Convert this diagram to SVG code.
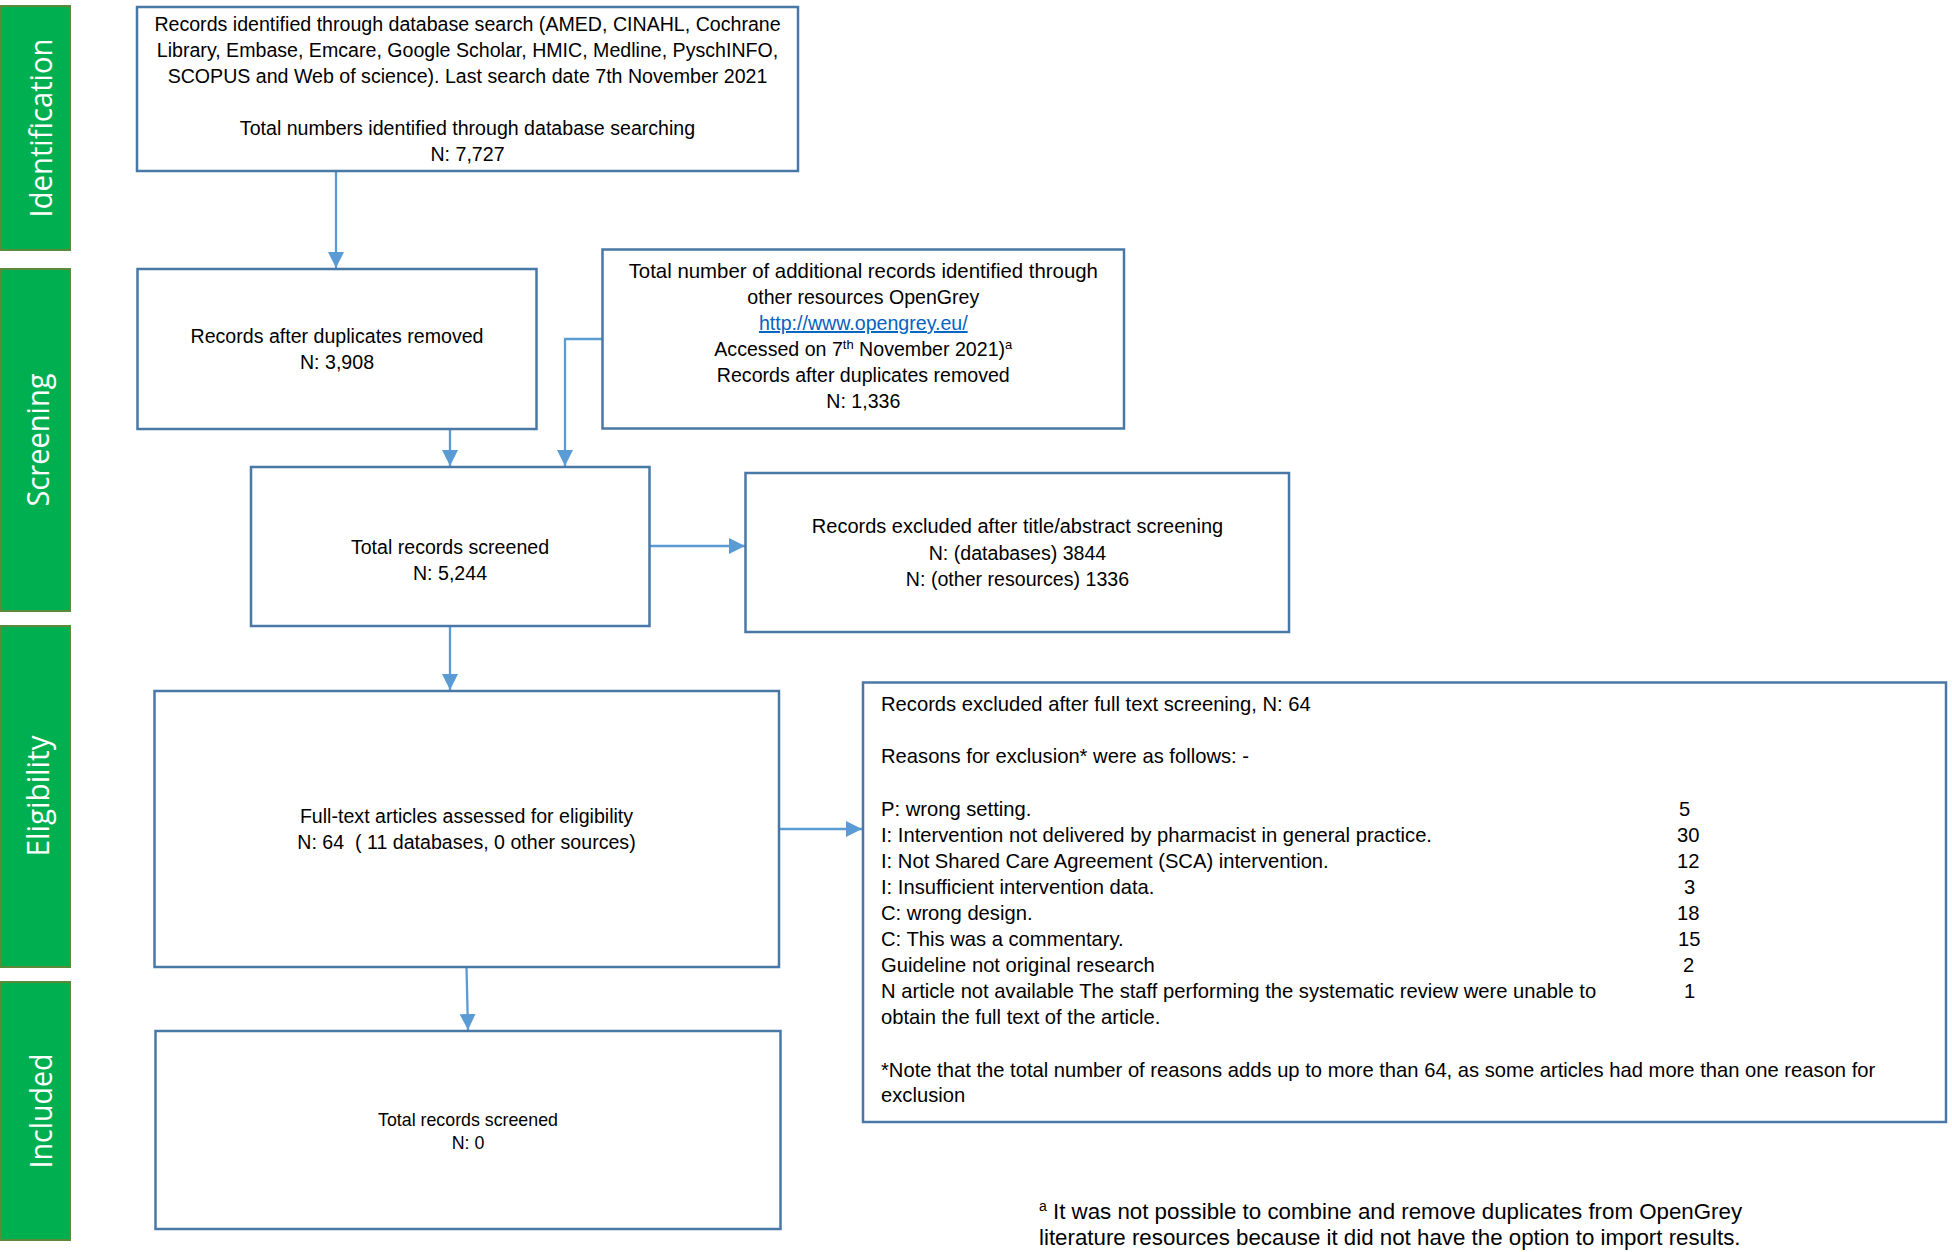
<svg xmlns="http://www.w3.org/2000/svg" width="1952" height="1252" viewBox="0 0 1952 1252">
<defs>
<style>
.bar{fill:#00B050;stroke:#5A8A3A;stroke-width:2}
.bl{fill:#fff;font-family:"Open Sans","DejaVu Sans",sans-serif;font-size:31px}
.box{fill:#fff;stroke:#4A78A6;stroke-width:2.5}
.t{font-family:"Liberation Sans",Arial,sans-serif;font-size:19.6px;fill:#000}
.w{font-size:20.2px}
.c{text-anchor:middle}
.con{fill:none;stroke:#5B9BD5;stroke-width:2.3}
.link{fill:#0563C1}
</style>
<marker id="ah" markerUnits="userSpaceOnUse" markerWidth="16" markerHeight="16" viewBox="0 0 14 14" refX="14" refY="7" orient="auto">
<path d="M0,0 L14,7 L0,14 Z" fill="#5B9BD5"/>
</marker>
</defs>
<rect width="1952" height="1252" fill="#fff"/>

<g id="stage-identification">
<rect class="bar" x="1" y="6" width="69" height="244"/>
<text class="bl" transform="translate(52,128) rotate(-90)" text-anchor="middle" textLength="179" lengthAdjust="spacingAndGlyphs">Identification</text>
</g>
<g id="stage-screening">
<rect class="bar" x="1" y="269" width="69" height="342"/>
<text class="bl" transform="translate(49,440) rotate(-90)" text-anchor="middle" textLength="133" lengthAdjust="spacingAndGlyphs">Screening</text>
</g>
<g id="stage-eligibility">
<rect class="bar" x="1" y="626" width="69" height="341"/>
<text class="bl" transform="translate(49,796) rotate(-90)" text-anchor="middle" textLength="121" lengthAdjust="spacingAndGlyphs">Eligibility</text>
</g>
<g id="stage-included">
<rect class="bar" x="1" y="982" width="69" height="258"/>
<text class="bl" transform="translate(52,1111) rotate(-90)" text-anchor="middle" textLength="115" lengthAdjust="spacingAndGlyphs">Included</text>
</g>

<g id="connectors">
<path class="con" d="M336,171 V268" marker-end="url(#ah)"/>
<path class="con" d="M450,429 V466" marker-end="url(#ah)"/>
<path class="con" d="M602.5,339 H565 V466" marker-end="url(#ah)"/>
<path class="con" d="M649.5,546 H745" marker-end="url(#ah)"/>
<path class="con" d="M450,626 V690" marker-end="url(#ah)"/>
<path class="con" d="M779,829 H862" marker-end="url(#ah)"/>
<path class="con" d="M466.5,967 L468,1030" marker-end="url(#ah)"/>
</g>

<g id="node-database-search">
<rect class="box" x="137" y="7" width="661" height="164"/>
<text class="t c" x="467.5" y="31">Records identified through database search (AMED, CINAHL, Cochrane</text>
<text class="t c" x="467.5" y="57">Library, Embase, Emcare, Google Scholar, HMIC, Medline, PyschINFO,</text>
<text class="t c" x="467.5" y="83">SCOPUS and Web of science). Last search date 7th November 2021</text>
<text class="t c" x="467.5" y="135">Total numbers identified through database searching</text>
<text class="t c" x="467.5" y="161">N: 7,727</text>
</g>

<g id="node-after-duplicates">
<rect class="box" x="137.5" y="269" width="399" height="160"/>
<text class="t c" x="337" y="343">Records after duplicates removed</text>
<text class="t c" x="337" y="369">N: 3,908</text>
</g>

<g id="node-other-resources">
<rect class="box" x="602.5" y="249.5" width="521.5" height="179"/>
<text class="t c" x="863.3" y="278" style="font-size:20.4px">Total number of additional records identified through</text>
<text class="t c" x="863.3" y="304">other resources OpenGrey</text>
<text class="t c link" x="863.3" y="330" text-decoration="underline">http://www.opengrey.eu/</text>
<text class="t c" x="863.3" y="356">Accessed on 7<tspan font-size="13" dy="-7">th</tspan><tspan dy="7"> November 2021)</tspan><tspan font-size="13" dy="-7">a</tspan></text>
<text class="t c" x="863.3" y="382">Records after duplicates removed</text>
<text class="t c" x="863.3" y="408">N: 1,336</text>
</g>

<g id="node-screened">
<rect class="box" x="251" y="467" width="398.5" height="159"/>
<text class="t c" x="450" y="554">Total records screened</text>
<text class="t c" x="450" y="580">N: 5,244</text>
</g>

<g id="node-excluded-title">
<rect class="box" x="745.5" y="473" width="543.5" height="159"/>
<text class="t c" x="1017.5" y="533" style="font-size:20px">Records excluded after title/abstract screening</text>
<text class="t c" x="1017.5" y="560">N: (databases) 3844</text>
<text class="t c" x="1017.5" y="586">N: (other resources) 1336</text>
</g>

<g id="node-fulltext">
<rect class="box" x="154.5" y="691" width="624.5" height="276"/>
<text class="t c" x="466.5" y="823">Full-text articles assessed for eligibility</text>
<text class="t c" x="466.5" y="849" xml:space="preserve" style="white-space:pre">N: 64  ( 11 databases, 0 other sources)</text>
</g>

<g id="node-included">
<rect class="box" x="155.5" y="1031" width="625" height="198"/>
<text class="t c" x="468" y="1126" style="font-size:17.8px">Total records screened</text>
<text class="t c" x="468" y="1149" style="font-size:17.8px">N: 0</text>
</g>

<g id="node-excluded-fulltext">
<rect class="box" x="863" y="682.5" width="1083" height="439.5"/>
<text class="t w" x="881" y="711">Records excluded after full text screening, N: 64</text>
<text class="t w" x="881" y="763">Reasons for exclusion* were as follows: -</text>
<text class="t w" x="881" y="815.7">P: wrong setting.</text>
<text class="t w" x="1679" y="815.7">5</text>
<text class="t w" x="881" y="841.8">I: Intervention not delivered by pharmacist in general practice.</text>
<text class="t w" x="1677" y="841.8">30</text>
<text class="t w" x="881" y="867.9">I: Not Shared Care Agreement (SCA) intervention.</text>
<text class="t w" x="1677" y="867.9">12</text>
<text class="t w" x="881" y="894">I: Insufficient intervention data.</text>
<text class="t w" x="1684" y="894">3</text>
<text class="t w" x="881" y="920">C: wrong design.</text>
<text class="t w" x="1677" y="920">18</text>
<text class="t w" x="881" y="946">C: This was a commentary.</text>
<text class="t w" x="1678" y="946">15</text>
<text class="t w" x="881" y="972">Guideline not original research</text>
<text class="t w" x="1683" y="972">2</text>
<text class="t w" x="881" y="998">N article not available The staff performing the systematic review were unable to</text>
<text class="t w" x="1684" y="998">1</text>
<text class="t w" x="881" y="1024">obtain the full text of the article.</text>
<text class="t w" x="881" y="1077">*Note that the total number of reasons adds up to more than 64, as some articles had more than one reason for</text>
<text class="t w" x="881" y="1102">exclusion</text>
</g>

<g id="footnote">
<text class="t" x="1039" y="1219" style="font-size:22.3px"><tspan font-size="14" dy="-8">a</tspan><tspan dy="8"> It was not possible to combine and remove duplicates from OpenGrey</tspan></text>
<text class="t" x="1039" y="1245" style="font-size:22.3px">literature resources because it did not have the option to import results.</text>
</g>
</svg>
